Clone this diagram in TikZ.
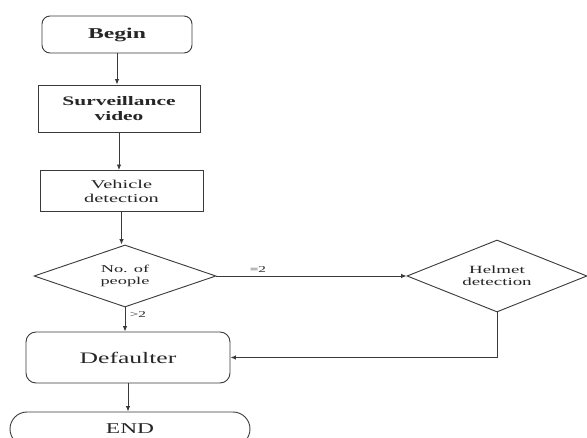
\documentclass[tikz,border=0pt]{standalone}
\usepackage{fontspec}
\setmainfont{Liberation Serif}
\usepackage{graphicx}
\usetikzlibrary{shapes.geometric,arrows.meta}
\definecolor{lc}{HTML}{3A3A3A}
\definecolor{tc}{HTML}{262626}
\newcommand{\sx}[2][1.7]{\scalebox{#1}[1]{#2}}
\begin{document}
\begin{tikzpicture}[x=1pt,y=-1pt,
  box/.style={draw=lc, line width=0.9pt, inner sep=0pt, text=tc, align=center},
  dia/.style={box, shape=diamond, aspect=3},
  arr/.style={draw=lc, line width=0.9pt, -{Latex[length=5.5pt,width=4.5pt]}},
  lbl/.style={text=tc, inner sep=0pt, font=\fontsize{9}{10}\selectfont}]
\useasboundingbox (0,0) rectangle (587,438);
\fill[white] (0,0) rectangle (587,438);

\node[box, rounded corners=8pt, minimum width=150pt, minimum height=37pt,
      font=\fontsize{15}{17}\selectfont\bfseries] (begin) at (117,34.5) {\sx[1.58]{Begin}};
\node[box, minimum width=162pt, minimum height=47pt,
      font=\fontsize{13}{15}\selectfont\bfseries] (surv) at (119,108.5)
      {\sx[1.65]{Surveillance}\\\sx[1.65]{video}};
\node[box, minimum width=163pt, minimum height=41pt,
      font=\fontsize{12}{14}\selectfont] (veh) at (121.5,191)
      {\sx{Vehicle}\\\sx{detection}};
\node[dia, minimum width=182pt, minimum height=62pt,
      font=\fontsize{10.5}{11.5}\selectfont] (num) at (125,276)
      {\sx[1.75]{No. of}\\\sx[1.75]{people}};
\node[dia, minimum width=180pt, minimum height=72pt,
      font=\fontsize{11}{12}\selectfont] (helm) at (497,276)
      {\sx[1.72]{Helmet}\\\sx[1.72]{detection}};
\node[box, rounded corners=10pt, minimum width=204pt, minimum height=51pt,
      font=\fontsize{16}{18}\selectfont] (def) at (128,357.5) {\sx[1.6]{Defaulter}};
\node[box, rounded corners=17pt, minimum width=240pt, minimum height=34pt,
      font=\fontsize{15}{17}\selectfont] (end) at (130,429) {\sx[1.56]{END}};

\draw[arr] (begin.south) -- (begin.south |- surv.north);
\draw[arr] (surv.south) -- (surv.south |- veh.north);
\draw[arr] (veh.south) -- (veh.south |- num.north);
\draw[arr] (num.south) -- (num.south |- def.north);
\draw[arr] (def.south) -- (def.south |- end.north);
\draw[arr] (num.east) -- (helm.west);
\draw[arr] (helm.south) |- (def.east);

\node[lbl, anchor=base] (eq) at (258,273) {\sx{=2}};
\node[lbl, anchor=base] (gt) at (138,318) {\sx{>2}};
\end{tikzpicture}
\end{document}
